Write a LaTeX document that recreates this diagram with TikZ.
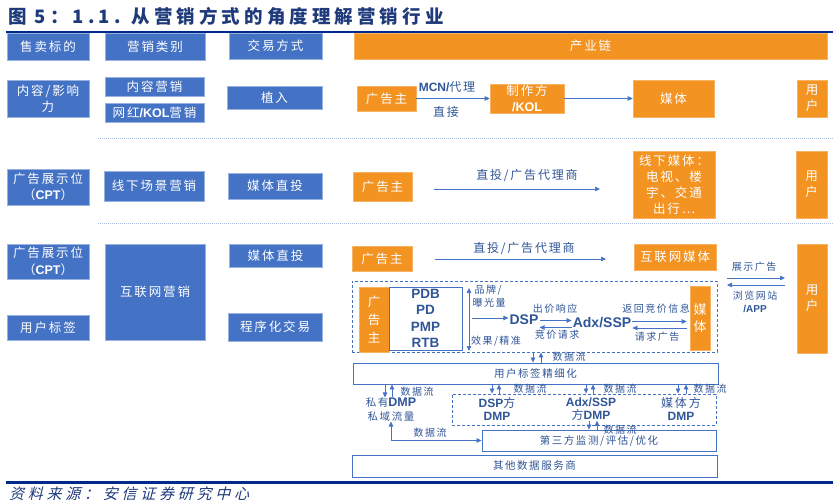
\documentclass[tikz,border=0pt]{standalone}
\usepackage{fontspec}
\setmainfont{Noto Sans CJK SC}
\newfontfamily\cjk[LetterSpace=15]{Noto Sans CJK SC}
\newfontfamily\cjkt[LetterSpace=22]{Noto Sans CJK SC}
\newfontfamily\cjkit[FakeSlant=0.25,LetterSpace=25]{Noto Sans CJK SC}
\newfontfamily\lat{Liberation Sans}
\usetikzlibrary{arrows.meta}
\definecolor{bxblue}{HTML}{4472C4}
\definecolor{org}{HTML}{F39322}
\definecolor{txb}{HTML}{2F5597}
\definecolor{lnb}{HTML}{4472C4}
\definecolor{navy}{HTML}{1F3A7A}
\definecolor{rulec}{HTML}{00298C}
\newcommand\rb[7]{\node[#2,minimum width={(#5-#3)*1pt},minimum height={(#6-#4)*1pt}] (#1) at ({(#3+#5)/2},{(#4+#6)/2}) {#7};}
\tikzset{
  bb/.style={fill=bxblue, draw=bxblue!55!white, line width=0.6pt, text=white, inner sep=0pt, align=center, font=\cjk\fontsize{12.5}{16.5}\selectfont},
  ob/.style={fill=org, draw=org!70!white, line width=0.6pt, text=white, inner sep=0pt, align=center, font=\cjk\fontsize{12.5}{16}\selectfont},
  wb/.style={draw=lnb, line width=0.9pt, fill=white, text=txb, inner sep=0pt, align=center, font=\cjk\fontsize{10.5}{13}\selectfont},
  dsh/.style={draw=lnb, line width=0.9pt, dash pattern=on 3pt off 2pt, inner sep=0pt},
  lb/.style={text=txb, inner sep=0pt, align=center, font=\cjk\fontsize{10}{13}\selectfont},
  lbb/.style={text=txb, inner sep=0pt, align=center, font=\cjk\fontsize{12}{14}\selectfont},
  bl/.style={text=txb, inner sep=1pt, align=center, font=\lat\bfseries\fontsize{14}{16}\selectfont},
  dm/.style={text=txb, inner sep=0pt, align=center, font=\cjk\fontsize{12}{13.5}\selectfont},
  ar/.style={draw=lnb, line width=0.7pt, -{Triangle[length=5pt,width=4.5pt]}},
  ar2/.style={draw=lnb, line width=0.7pt, {Triangle[length=5pt,width=4.5pt]}-{Triangle[length=5pt,width=4.5pt]}},
  sepl/.style={draw=lnb!45, line width=0.6pt, dash pattern=on 1pt off 1pt},
}
\begin{document}
\begin{tikzpicture}[x=1pt,y=-1pt]
\useasboundingbox (0,0) rectangle (833,500);
% title
\node[anchor=base west, text=navy, inner sep=0pt, font=\cjkt\bfseries\fontsize{18.5}{20}\selectfont] (title) at (8,24) {图 5：1.1. 从营销方式的角度理解营销行业};
\draw[rulec, line width=2pt] (6,32) -- (833,32);
% header
\rb{h1}{bb}{7}{33}{89}{60}{售卖标的}
\rb{h2}{bb}{105}{33}{205}{60}{营销类别}
\rb{h3}{bb}{229}{33}{322}{59}{交易方式}
\rb{h4}{ob}{354}{33}{827}{59}{产业链}
% row 1
\rb{a1}{bb}{7}{80}{89}{117}{内容/影响\\力}
\rb{b1}{bb}{105}{77}{204}{96}{内容营销}
\rb{b2}{bb}{105}{103}{204}{122}{网红{\lat\bfseries /KOL}营销}
\rb{c1}{bb}{227}{86}{322}{109}{植入}
\rb{d1}{ob}{357}{86}{416}{111}{广告主}
\rb{e1}{ob}{490}{84}{564}{113}{制作方\\{\lat\bfseries /KOL}}
\rb{f1}{ob}{633}{80}{714}{117}{媒体}
\rb{u1}{ob}{797}{80}{827}{117}{用\\户}
\draw[ar] (d1.east) -- (d1.east -| e1.west);
\draw[ar] (e1.east) -- (e1.east -| f1.west);
\node[lbb] (l1) at (447,87) {{\lat\bfseries MCN/}代理};
\node[lbb] (l2) at (446,112) {直接};
\draw[sepl] (98,138) -- (833,138);
% row 2
\rb{a2}{bb}{7}{169}{89}{205}{广告展示位\\（{\lat\bfseries CPT}）}
\rb{b3}{bb}{104}{171}{204}{201}{线下场景营销}
\rb{c2}{bb}{228}{173}{322}{199}{媒体直投}
\rb{d2}{ob}{353}{172}{412}{201}{广告主}
\rb{f2}{ob}{633}{151}{715}{218}{线下媒体：\\电视、楼\\宇、交通\\出行…}
\rb{u2}{ob}{796}{151}{827}{218}{用\\户}
\coordinate (p2s) at (434,189);
\coordinate (p2e) at (600,189);
\draw[ar] (p2s) -- (p2e);
\node[lbb] (l3) at (527,176) {直投/广告代理商};
\draw[sepl] (98,223) -- (833,223);
% row 3
\rb{a3}{bb}{7}{244}{89}{279}{广告展示位\\（{\lat\bfseries CPT}）}
\rb{a4}{bb}{7}{315}{89}{340}{用户标签}
\rb{b4}{bb}{105}{244}{205}{340}{互联网营销}
\rb{c3}{bb}{229}{244}{322}{267}{媒体直投}
\rb{c4}{bb}{228}{313}{322}{341}{程序化交易}
\rb{d3}{ob}{352}{246}{412}{271}{广告主}
\rb{f3}{ob}{634}{244}{716}{270}{互联网媒体}
\rb{u3}{ob}{797}{244}{827}{353}{用\\户}
\coordinate (p3s) at (435,259);
\coordinate (p3e) at (606,259);
\draw[ar] (p3s) -- (p3e);
\node[lbb] (l4) at (524,249) {直投/广告代理商};
\node[lb] (l5) at (754,267) {展示广告};
\coordinate (q1) at (727,278);
\coordinate (q2) at (785,278);
\coordinate (q3) at (785,285);
\coordinate (q4) at (727,285);
\draw[ar] (q1) -- (q2);
\draw[ar] (q3) -- (q4);
\node[lb] (l6) at (755,301.5) {浏览网站\\{\lat\bfseries /APP}};
% programmatic box
\rb{dbox}{dsh}{352}{281}{717}{352}{}
\rb{d4}{ob, font=\cjk\fontsize{12.5}{18}\selectfont}{359}{287}{389}{352}{广\\告\\主}
\rb{pdb}{wb, font=\lat\bfseries\fontsize{13.5}{16.3}\selectfont}{389}{287}{462}{350}{PDB\\PD\\PMP\\RTB}
\coordinate (va1) at (469,288);
\coordinate (va2) at (469,351);
\draw[ar2] (va1) -- (va2);
\node[lb] (l7) at (488,290) {品牌/};
\node[lb] (l8) at (489,303) {曝光量};
\node[lb] (l9) at (496,341) {效果/精准};
\node[bl] (dsp) at (524,320) {DSP};
\node[bl] (adx) at (602,323) {Adx/SSP};
\coordinate (hs) at (472,318);
\draw[ar] (hs) -- (dsp.west |- hs);
\draw[ar] (dsp.east |- 0,320.5) -- (adx.west |- 0,320.5);
\draw[ar] (adx.west |- 0,327.5) -- (dsp.east |- 0,327.5);
\node[lb] (l10) at (555,308.5) {出价响应};
\node[lb] (l11) at (557,334.5) {竞价请求};
\rb{m3}{ob, font=\cjk\fontsize{13}{17}\selectfont}{690}{286}{710}{350}{媒\\体}
\draw[ar] (adx.east |- 0,321.5) -- ([xshift=-3pt]m3.west |- 0,321.5);
\draw[ar] ([xshift=-3pt]m3.west |- 0,328) -- (adx.east |- 0,328);
\node[lb] (l12) at (656,308.5) {返回竞价信息};
\node[lb] (l13) at (657,337) {请求广告};
% data flows
\rb{tag}{wb}{353}{363}{718}{384}{用户标签精细化}
\draw[ar] (dbox.south -| 533,0) -- (tag.north -| 533,0);
\draw[ar] (tag.north -| 541,0) -- (dbox.south -| 541,0);
\node[lb] (l14) at (569,357) {数据流};
\node[lb, align=center, font=\cjk\fontsize{10.5}{14}\selectfont] (pdmp) at (391,409.5) {私有{\lat\bfseries\fontsize{12.5}{14}\selectfont DMP}\\私域流量};
\draw[ar] (tag.south -| 385,0) -- (pdmp.north -| 385,0);
\draw[ar] (pdmp.north -| 392,0) -- (tag.south -| 392,0);
\node[lb] (l15) at (417,391.5) {数据流};
\rb{dmp}{dsh}{452}{394}{716}{425}{}
\draw[ar] (tag.south -| 492,0) -- (dmp.north -| 492,0);
\draw[ar] (dmp.north -| 499,0) -- (tag.south -| 499,0);
\node[lb] (l16) at (530,389) {数据流};
\draw[ar] (tag.south -| 586,0) -- (dmp.north -| 586,0);
\draw[ar] (dmp.north -| 593,0) -- (tag.south -| 593,0);
\node[lb] (l17) at (620,389) {数据流};
\draw[ar] (tag.south -| 678,0) -- (dmp.north -| 678,0);
\draw[ar] (dmp.north -| 686,0) -- (tag.south -| 686,0);
\node[lb] (l18) at (710,389) {数据流};
\node[dm] (dm1) at (497,409) {{\lat\bfseries DSP}方\\{\lat\bfseries DMP}};
\node[dm] (dm2) at (591,409) {{\lat\bfseries Adx/SSP}\\方{\lat\bfseries DMP}};
\node[dm] (dm3) at (681,409) {媒体方\\{\lat\bfseries DMP}};
\rb{th}{wb}{482}{430}{716}{451}{第三方监测/评估/优化}
\rb{oth}{wb}{352}{455}{717}{477}{其他数据服务商}
\draw[ar] (dm2.south -| 589,0) -- (th.north -| 589,0);
\draw[ar] (th.north -| 597,0) -- (dm2.south -| 597,0);
\node[lb] (l19) at (620,429.5) {数据流};
\draw[ar2] (pdmp.south -| 391,0) |- (th.west);
\node[lb] (l20) at (430,433) {数据流};
% footer
\draw[rulec, line width=3pt] (6,482) -- (833,482);
\node[anchor=west, inner sep=0pt, text=navy, font=\cjkit\fontsize{15}{16}\selectfont] (src) at (9,494) {资料来源：安信证券研究中心};
\end{tikzpicture}
\end{document}
